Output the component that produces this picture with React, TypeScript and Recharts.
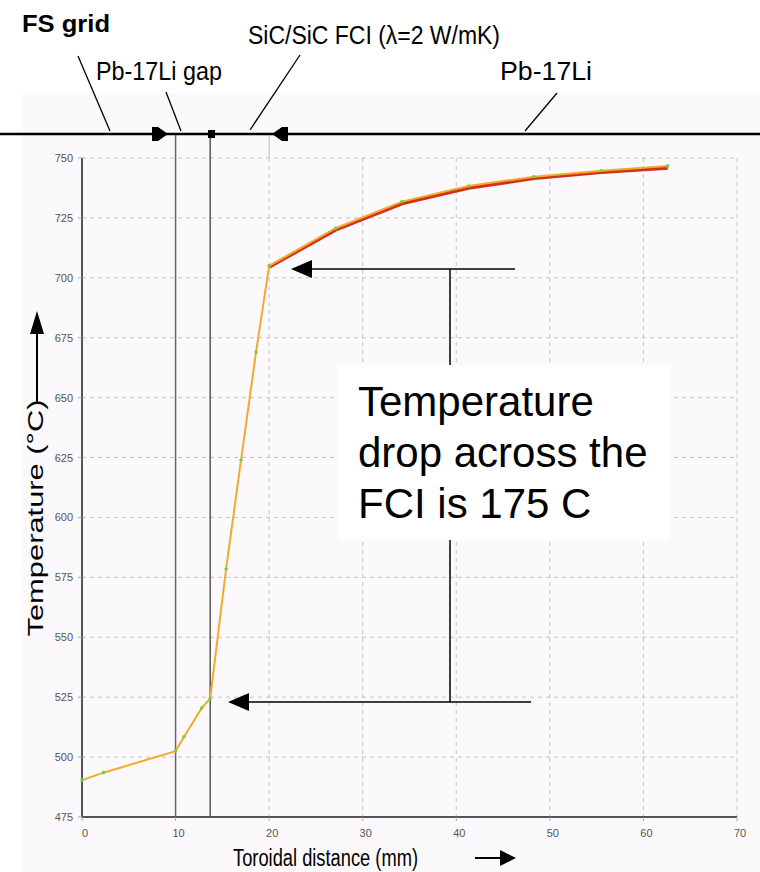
import React from "react";
import {
  LineChart,
  Line,
  XAxis,
  YAxis,
  CartesianGrid,
  ReferenceLine,
} from "recharts";

// toroidal distance (mm)
const distance = [0, 2.3, 10, 10.9, 12.8, 13.7, 15.4, 17.0, 18.6, 20, 27.1, 34.2, 41.3, 48.3, 55.5, 62.6];
// temperature (°C), orange trace
const tempOrange = [490.4, 493.5, 502.5, 508.5, 520.5, 524.5, 578.5, 624, 669, 705, 720.7, 731.8, 738.3, 742.2, 744.7, 746.7];
// temperature (°C), red trace (only visible in the Pb-17Li region)
const tempRed = [null, null, null, null, null, null, null, null, null, 704.5, 720, 731, 737.5, 741.5, 744, 745.8];

const xTicks = [0, 10, 20, 30, 40, 50, 60, 70];
const yTicks = [475, 500, 525, 550, 575, 600, 625, 650, 675, 700, 725, 750];

// region boundaries (mm)
const gapStart = 10;
const fciStart = 13.7;
const fciEnd = 20;

const rows = distance.map((x, i) => ({ x, orange: tempOrange[i], red: tempRed[i] }));

const FONT = "'Liberation Sans', Arial, sans-serif";

const XTick = (props: any) => {
  const { x, y, payload } = props;
  return (
    <text x={x + 3} y={y + 14} textAnchor="middle" fontSize={11} fill="#555" fontFamily={FONT}>
      {payload.value}
    </text>
  );
};

const YTick = (props: any) => {
  const { x, y, payload } = props;
  return (
    <text x={x} y={y + 4} textAnchor="end" fontSize={11} fill="#555" fontFamily={FONT}>
      {payload.value}
    </text>
  );
};

export default function App() {
  return (
    <div style={{ position: "absolute", left: 0, top: 0, width: 760, height: 872, background: "#fff", overflow: "hidden" }}>
      <div style={{ position: "absolute", left: 22, top: 93, width: 738, height: 779, background: "#fcf9fc" }} />

      <div style={{ position: "absolute", left: 0, top: 0 }}>
        <LineChart width={760} height={872} data={rows} margin={{ top: 158, right: 23, bottom: 25, left: 0 }}>
          <CartesianGrid strokeDasharray="4 4" stroke="#c2c2c2" />
          <XAxis
            dataKey="x"
            type="number"
            domain={[0, 70]}
            ticks={xTicks}
            height={30}
            axisLine={{ stroke: "#555", strokeWidth: 2 }}
            tickLine={{ stroke: "#aaa" }}
            tickSize={4}
            tick={<XTick />}
          />
          <YAxis
            type="number"
            domain={[475, 750]}
            ticks={yTicks}
            width={82}
            axisLine={{ stroke: "#555", strokeWidth: 2 }}
            tickLine={{ stroke: "#aaa" }}
            tickSize={4}
            tickMargin={5}
            tick={<YTick />}
          />
          <ReferenceLine
            segment={[{ x: gapStart, y: 475 }, { x: gapStart, y: 760 }]}
            stroke="#666"
            strokeWidth={1.5}
            ifOverflow="visible"
          />
          <ReferenceLine
            segment={[{ x: fciStart, y: 475 }, { x: fciStart, y: 760 }]}
            stroke="#555"
            strokeWidth={1.5}
            ifOverflow="visible"
          />
          <ReferenceLine
            segment={[{ x: fciEnd, y: 750 }, { x: fciEnd, y: 760 }]}
            stroke="#bbb"
            strokeWidth={1}
            ifOverflow="visible"
          />
          <Line
            dataKey="red"
            type="linear"
            stroke="#d3301a"
            strokeWidth={3.5}
            dot={false}
            isAnimationActive={false}
          />
          <Line
            dataKey="orange"
            type="linear"
            stroke="#f3aa2c"
            strokeWidth={2}
            dot={{ r: 1.8, fill: "#7acc44", stroke: "none" }}
            isAnimationActive={false}
          />
        </LineChart>
      </div>

      <svg
        width={760}
        height={872}
        style={{ position: "absolute", left: 0, top: 0, pointerEvents: "none" }}
        fontFamily={FONT}
      >
        {/* top labels */}
        <text x={22} y={32} fontSize={24} fontWeight="bold" textLength={88} lengthAdjust="spacingAndGlyphs">
          FS grid
        </text>
        <text x={248} y={44} fontSize={25} textLength={252} lengthAdjust="spacingAndGlyphs">
          SiC/SiC FCI (λ=2 W/mK)
        </text>
        <text x={96} y={80} fontSize={25} textLength={126} lengthAdjust="spacingAndGlyphs">
          Pb-17Li gap
        </text>
        <text x={500} y={80} fontSize={25} textLength={92} lengthAdjust="spacingAndGlyphs">
          Pb-17Li
        </text>

        {/* leaders */}
        <line x1={78} y1={56} x2={110} y2={131} stroke="#000" strokeWidth={1.3} />
        <line x1={166} y1={92} x2={181} y2={131} stroke="#000" strokeWidth={1.3} />
        <line x1={300} y1={55} x2={250} y2={130} stroke="#000" strokeWidth={1.3} />
        <line x1={557} y1={93} x2={525} y2={131} stroke="#000" strokeWidth={1.3} />

        {/* region bar */}
        <line x1={0} y1={134} x2={760} y2={134} stroke="#000" strokeWidth={2.5} />
        <polygon points="152,127 158,127 168,134 158,141 152,141" fill="#000" />
        <rect x={208} y={130} width={7} height={8} fill="#000" />
        <polygon points="288,127 282,127 272,134 282,141 288,141" fill="#000" />

        {/* annotation box */}
        <rect x={338} y={365} width={332} height={175} fill="#fff" />
        <text x={358} y={416} fontSize={42}>Temperature</text>
        <text x={358} y={467} fontSize={42}>drop across the</text>
        <text x={358} y={518} fontSize={42}>FCI is 175 C</text>

        {/* bracket + arrows */}
        <line x1={450} y1={269} x2={450} y2={365} stroke="#000" strokeWidth={1.5} />
        <line x1={450} y1={540} x2={450} y2={702} stroke="#000" strokeWidth={1.5} />
        <line x1={515} y1={269} x2={308} y2={269} stroke="#000" strokeWidth={1.5} />
        <polygon points="291,269 312,260 312,278" fill="#000" />
        <line x1={531} y1={702} x2={245} y2={702} stroke="#000" strokeWidth={1.5} />
        <polygon points="228,702 249,693 249,711" fill="#000" />

        {/* y axis title */}
        <text
          x={0}
          y={0}
          fontSize={22}
          textAnchor="middle"
          textLength={237}
          lengthAdjust="spacingAndGlyphs"
          transform="translate(43,518) rotate(-90)"
        >
          Temperature (°C)
        </text>
        <line x1={37} y1={403} x2={37} y2={325} stroke="#000" strokeWidth={2} />
        <polygon points="37,311 44,334 30,334" fill="#000" />

        {/* x axis title */}
        <text x={233} y={866} fontSize={23} textLength={185} lengthAdjust="spacingAndGlyphs">
          Toroidal distance (mm)
        </text>
        <line x1={475} y1={858} x2={503} y2={858} stroke="#000" strokeWidth={2} />
        <polygon points="516,858 500,850 500,866" fill="#000" />
      </svg>
    </div>
  );
}
